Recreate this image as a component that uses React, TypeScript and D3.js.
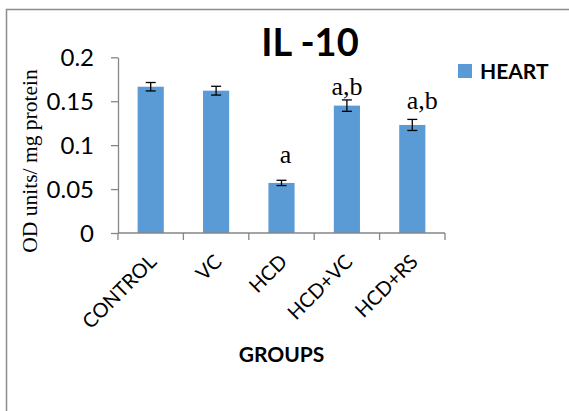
import React, { useRef, useEffect } from "react";
import * as d3 from "d3";

// data
const groups = ["CONTROL", "VC", "HCD", "HCD+VC", "HCD+RS"];
const heart = [0.1665, 0.162, 0.057, 0.145, 0.123];
const heartErr = [0.0048, 0.005, 0.003, 0.0065, 0.0063];
const sigLabels = ["", "", "a", "a,b", "a,b"];
const yTicks = [0, 0.05, 0.1, 0.15, 0.2];
const yTickLabels = ["0", "0.05", "0.1", "0.15", "0.2"];

// hand nudges of the significance letters (layout, not data)
const sigNudge = [
  { dx: 0, dy: 0 },
  { dx: 0, dy: 0 },
  { dx: 4, dy: -17 },
  { dx: 0, dy: -5 },
  { dx: 10, dy: -10 },
];

const W = 569;
const H = 411;
const BAR = "#5B9BD5";
const AXIS = "#868686";
const SANS = "Lato, 'Open Sans', sans-serif";
const SERIF = "'Liberation Serif', 'DejaVu Serif', serif";

const App = () => {
  const ref = useRef<SVGSVGElement | null>(null);

  useEffect(() => {
    const svg = d3.select(ref.current);
    svg.selectAll("*").remove();

    const left = 118;
    const right = 445;
    const bottom = 233;
    const top = 57.3;

    const x = d3
      .scaleBand()
      .domain(groups)
      .range([left, right])
      .paddingInner(0.6)
      .paddingOuter(0.3);

    const xEdge = d3.scaleBand().domain(groups).range([left, right]).padding(0);

    const y = d3.scaleLinear().domain([0, 0.2]).range([bottom, top]);

    // chart frame
    svg
      .append("rect")
      .attr("x", 6.5)
      .attr("y", 9.5)
      .attr("width", 620)
      .attr("height", 500)
      .attr("fill", "white")
      .attr("stroke", "#8c8c8c")
      .attr("stroke-width", 1.5);

    // bars
    svg
      .append("g")
      .selectAll("rect")
      .data(groups)
      .join("rect")
      .attr("x", (d) => x(d)!)
      .attr("y", (_, i) => y(heart[i]))
      .attr("width", x.bandwidth())
      .attr("height", (_, i) => bottom - y(heart[i]))
      .attr("fill", BAR);

    // y axis
    const yAxis = svg
      .append("g")
      .attr("transform", `translate(${left},0)`)
      .call(
        d3
          .axisLeft(y)
          .tickValues(yTicks)
          .tickSize(7)
          .tickSizeOuter(0)
          .tickPadding(17)
          .tickFormat((_, i) => yTickLabels[i])
      );
    yAxis.selectAll("path,line").attr("stroke", AXIS).attr("stroke-width", 1.3);
    yAxis
      .selectAll("text")
      .attr("fill", "#000")
      .attr("font-family", SANS)
      .attr("font-size", 24)
      .attr("dy", "0.36em");

    // x axis
    const xAxis = svg.append("g");
    xAxis
      .append("line")
      .attr("x1", left)
      .attr("x2", right)
      .attr("y1", bottom)
      .attr("y2", bottom)
      .attr("stroke", AXIS)
      .attr("stroke-width", 1.3);
    const edges = groups.map((g) => xEdge(g)!).concat([right]);
    xAxis
      .selectAll("line.tick")
      .data(edges)
      .join("line")
      .attr("class", "tick")
      .attr("x1", (d) => d)
      .attr("x2", (d) => d)
      .attr("y1", bottom)
      .attr("y2", bottom + 7)
      .attr("stroke", AXIS)
      .attr("stroke-width", 1.3);
    xAxis
      .selectAll("text")
      .data(groups)
      .join("text")
      .attr(
        "transform",
        (d) => `translate(${x(d)! + x.bandwidth() / 2 + 7},${bottom + 30}) rotate(-45)`
      )
      .attr("text-anchor", "end")
      .attr("font-family", SANS)
      .attr("font-size", 20)
      .text((d) => d);

    // error bars
    const eb = svg.append("g").attr("stroke", "#000").attr("stroke-width", 1.3);
    groups.forEach((g, i) => {
      const cx = x(g)! + x.bandwidth() / 2;
      const y1 = y(heart[i] + heartErr[i]);
      const y2 = y(heart[i] - heartErr[i]);
      eb.append("line").attr("x1", cx).attr("x2", cx).attr("y1", y1).attr("y2", y2);
      eb.append("line").attr("x1", cx - 5).attr("x2", cx + 5).attr("y1", y1).attr("y2", y1);
      eb.append("line").attr("x1", cx - 5).attr("x2", cx + 5).attr("y1", y2).attr("y2", y2);
    });

    // significance letters
    svg
      .append("g")
      .selectAll("text")
      .data(groups)
      .join("text")
      .attr("x", (d, i) => x(d)! + x.bandwidth() / 2 + sigNudge[i].dx)
      .attr("y", (_, i) => y(heart[i] + heartErr[i]) + sigNudge[i].dy)
      .attr("text-anchor", "middle")
      .attr("font-family", SERIF)
      .attr("font-size", 26)
      .text((_, i) => sigLabels[i]);

    // title
    svg
      .append("text")
      .attr("x", 310)
      .attr("y", 56)
      .attr("text-anchor", "middle")
      .attr("font-family", SANS)
      .attr("font-weight", "bold")
      .attr("font-size", 38)
      .text("IL -10");

    // axis titles
    svg
      .append("text")
      .attr("transform", `translate(37,161) rotate(-90)`)
      .attr("text-anchor", "middle")
      .attr("font-family", SERIF)
      .attr("font-size", 21.5)
      .text("OD units/ mg protein");

    svg
      .append("text")
      .attr("x", (left + right) / 2)
      .attr("y", 362)
      .attr("text-anchor", "middle")
      .attr("font-family", SANS)
      .attr("font-weight", "bold")
      .attr("font-size", 21)
      .text("GROUPS");

    // legend
    svg
      .append("rect")
      .attr("x", 458)
      .attr("y", 64)
      .attr("width", 14)
      .attr("height", 14)
      .attr("fill", BAR);
    svg
      .append("text")
      .attr("x", 480)
      .attr("y", 78.5)
      .attr("font-family", SANS)
      .attr("font-weight", "bold")
      .attr("font-size", 21)
      .text("HEART");
  }, []);

  return (
    <svg
      ref={ref}
      width={W}
      height={H}
      style={{ position: "absolute", left: 0, top: 0, background: "white" }}
    />
  );
};

export default App;
